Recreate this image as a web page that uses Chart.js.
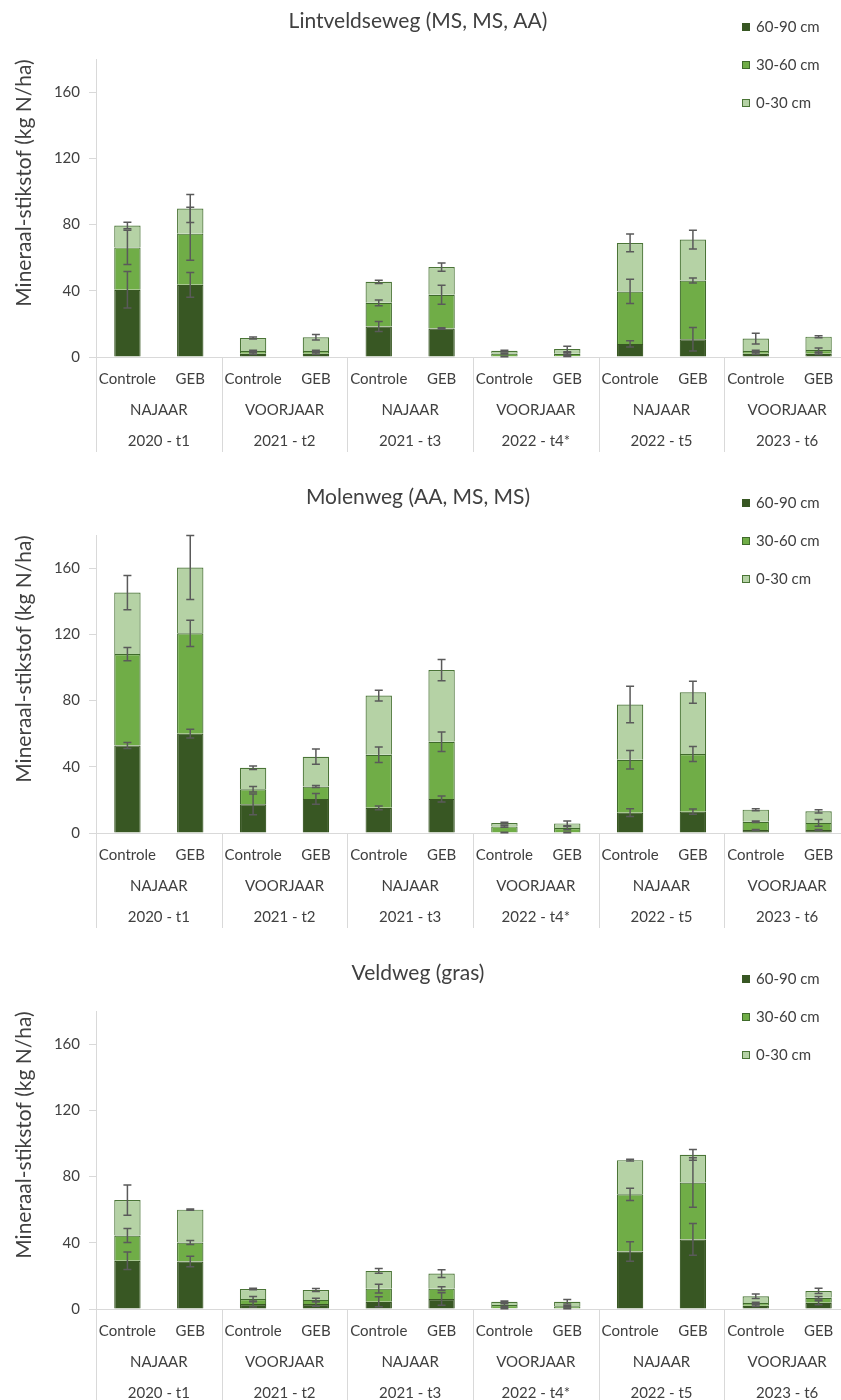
<!DOCTYPE html>
<html>
<head>
<meta charset="utf-8">
<script src="https://cdn.jsdelivr.net/npm/chart.js@4.4.0/dist/chart.umd.min.js"></script>
<style>
  html, body { margin: 0; padding: 0; background: #fff; overflow: hidden; }
  .panel { width: 841px; height: 476px; overflow: hidden; }
  canvas { display: block; }
</style>
</head>
<body>
<div class="panel"><canvas id="chart1" width="850" height="476"></canvas></div>
<div class="panel"><canvas id="chart2" width="850" height="476"></canvas></div>
<div class="panel"><canvas id="chart3" width="850" height="476"></canvas></div>
<script>
const periods = ["2020 - t1", "2021 - t2", "2021 - t3", "2022 - t4*", "2022 - t5", "2023 - t6"];
const seasons = ["NAJAAR", "VOORJAAR", "NAJAAR", "VOORJAAR", "NAJAAR", "VOORJAAR"];
const treatments = ["Controle", "GEB"];
const layers = ["60-90 cm", "30-60 cm", "0-30 cm"];
const yTicks = [0, 40, 80, 120, 160];

// Lintveldseweg (MS, MS, AA) - segment values per layer, kg N/ha
const lintDeep = [40.6, 43.6, 2.0, 2.0, 18.4, 17.2, 0.3, 0.5, 7.9, 10.7, 2.0, 2.0];
const lintMid = [25.6, 30.9, 1.6, 1.6, 14.3, 20.4, 1.8, 1.5, 31.7, 35.5, 1.6, 2.2];
const lintTop = [13.2, 15.2, 7.9, 8.3, 12.7, 16.7, 1.6, 2.8, 29.3, 24.7, 7.5, 8.1];
const lintDeepErr = [11.0, 7.5, 0.5, 0.5, 3.0, 0.5, 0.2, 0.2, 1.9, 7.1, 0.5, 0.5];
const lintMidErr = [10.4, 16.0, 0.5, 0.5, 1.8, 5.8, 0.3, 0.5, 7.3, 1.5, 0.5, 1.2];
const lintTopErr = [2.0, 8.5, 0.6, 1.7, 1.0, 2.5, 0.4, 1.7, 5.4, 5.7, 3.3, 0.6];

// Molenweg (AA, MS, MS)
const molDeep = [52.9, 60.0, 17.3, 20.6, 15.2, 20.6, 0.3, 0.3, 12.3, 12.9, 1.8, 1.8];
const molMid = [55.2, 60.6, 9.1, 7.5, 32.1, 34.5, 3.7, 2.7, 31.9, 34.8, 5.0, 4.3];
const molTop = [37.1, 39.8, 13.0, 18.0, 35.7, 43.3, 2.0, 2.8, 33.4, 37.3, 7.3, 7.0];
const molDeepErr = [1.8, 2.6, 6.3, 3.2, 1.1, 1.8, 0.2, 0.2, 2.3, 1.6, 0.3, 0.3];
const molMidErr = [4.0, 7.9, 1.7, 0.6, 4.7, 5.9, 0.5, 1.0, 5.6, 4.5, 0.4, 2.0];
const molTopErr = [10.4, 19.3, 1.0, 4.6, 3.2, 6.4, 0.5, 1.4, 11.0, 6.6, 0.6, 1.0];

// Veldweg (gras)
const veldDeep = [29.1, 28.7, 3.0, 3.0, 4.4, 6.0, 0.5, 0.3, 34.7, 42.0, 2.0, 3.8];
const veldMid = [15.3, 11.5, 3.0, 2.5, 7.9, 6.3, 1.9, 1.3, 34.6, 34.4, 1.6, 3.0];
const veldTop = [21.4, 19.8, 6.1, 6.0, 10.7, 9.1, 2.0, 2.8, 20.6, 16.7, 4.1, 4.1];
const veldDeepErr = [5.3, 3.2, 1.8, 1.4, 3.0, 3.8, 0.3, 0.2, 5.9, 9.6, 0.5, 1.2];
const veldMidErr = [4.2, 1.2, 1.6, 1.0, 2.7, 1.1, 0.7, 0.4, 3.7, 15.0, 0.5, 0.7];
const veldTopErr = [9.1, 0.4, 0.5, 0.9, 1.4, 2.3, 0.5, 1.4, 0.5, 3.2, 1.4, 1.6];

const font = "Lato, 'Open Sans', sans-serif";
const textColor = "#404040";
const axisColor = "#d9d9d9";
const fills = ["#385723", "#70ad47", "#b5d2a5"];
const edges = ["#385723", "#3f6a2b", "#4a7436"];

const labels = [];
periods.forEach(() => treatments.forEach((t) => labels.push(t)));

// error bars sit on the cumulative top of each segment
const errorBars = {
  id: "errorBars",
  afterDatasetsDraw(chart) {
    const { ctx } = chart;
    const y = chart.scales.y;
    const totals = labels.map(() => 0);
    ctx.save();
    ctx.strokeStyle = "#5a5a5a";
    ctx.lineWidth = 1.5;
    chart.data.datasets.forEach((ds, i) => {
      const meta = chart.getDatasetMeta(i);
      ds.data.forEach((v, j) => {
        totals[j] += v;
        const e = ds.errors[j];
        const bx = meta.data[j].x;
        const hi = y.getPixelForValue(totals[j] + e);
        const lo = y.getPixelForValue(totals[j] - e);
        ctx.beginPath();
        ctx.moveTo(bx, hi); ctx.lineTo(bx, lo);
        ctx.moveTo(bx - 4, hi); ctx.lineTo(bx + 4, hi);
        ctx.moveTo(bx - 4, lo); ctx.lineTo(bx + 4, lo);
        ctx.stroke();
      });
    });
    ctx.restore();
  }
};

// season / period rows under the treatment labels
const groupLabels = {
  id: "groupLabels",
  afterDraw(chart) {
    const { ctx, chartArea } = chart;
    const x = chart.scales.x;
    const half = (x.getPixelForValue(1) - x.getPixelForValue(0)) / 2;
    const base = chartArea.bottom;
    ctx.save();
    ctx.strokeStyle = axisColor;
    ctx.lineWidth = 1;
    ctx.fillStyle = textColor;
    ctx.font = "15px " + font;
    ctx.textAlign = "center";
    ctx.textBaseline = "middle";
    periods.forEach((p, g) => {
      const a = x.getPixelForValue(2 * g);
      const b = x.getPixelForValue(2 * g + 1);
      const left = Math.round(a - half) + 0.5;
      ctx.beginPath();
      ctx.moveTo(left, base);
      ctx.lineTo(left, base + 95);
      ctx.stroke();
      ctx.fillText(seasons[g], (a + b) / 2, base + 53);
      ctx.fillText(p, (a + b) / 2, base + 84);
    });
    ctx.restore();
  }
};

const decorations = {
  id: "decorations",
  afterDraw(chart) {
    const { ctx } = chart;
    const o = chart.options.plugins.decorations;
    ctx.save();
    ctx.fillStyle = textColor;
    ctx.textBaseline = "middle";
    ctx.textAlign = "center";
    ctx.font = "21px " + font;
    ctx.fillText(o.title, 418, 21);

    ctx.save();
    ctx.translate(24, 183);
    ctx.rotate(-Math.PI / 2);
    ctx.font = "21px " + font;
    ctx.fillText("Mineraal-stikstof (kg N/ha)", 0, 0);
    ctx.restore();

    ctx.textAlign = "left";
    ctx.font = "15px " + font;
    chart.data.datasets.forEach((ds, i) => {
      const cy = 27 + i * 38;
      ctx.fillStyle = ds.backgroundColor;
      ctx.fillRect(742, cy - 4, 8, 8);
      ctx.strokeStyle = ds.borderColor;
      ctx.lineWidth = 1;
      ctx.strokeRect(742.5, cy - 3.5, 7, 7);
      ctx.fillStyle = textColor;
      ctx.fillText(ds.label, 756, cy);
    });
    ctx.restore();
  }
};

function makeChart(id, title, series, errors) {
  const ctx = document.getElementById(id).getContext("2d");
  return new Chart(ctx, {
    type: "bar",
    data: {
      labels: labels,
      datasets: layers.map((name, i) => ({
        label: name,
        data: series[i],
        errors: errors[i],
        backgroundColor: fills[i],
        borderColor: edges[i],
        borderWidth: 1.2,
        barPercentage: 0.42,
        categoryPercentage: 1.0,
      })),
    },
    options: {
      responsive: false,
      animation: false,
      layout: { padding: { top: 59, left: 0, right: 0, bottom: 0 } },
      plugins: {
        legend: { display: false },
        tooltip: { enabled: false },
        decorations: { title: title },
      },
      scales: {
        x: {
          stacked: true,
          grid: { display: false },
          border: { color: axisColor },
          ticks: {
            padding: 5, maxRotation: 0, minRotation: 0, autoSkip: false,
            color: textColor, font: { family: font, size: 15 },
          },
          afterFit(scale) { scale.height = 119; },
        },
        y: {
          stacked: true,
          min: 0,
          max: 180,
          afterBuildTicks(scale) { scale.ticks = yTicks.map((v) => ({ value: v })); },
          grid: { drawOnChartArea: false, tickLength: 7, color: axisColor },
          border: { color: axisColor },
          ticks: { padding: 9, color: textColor, font: { family: font, size: 15 } },
          afterFit(scale) { scale.width = 96; },
        },
      },
    },
    plugins: [errorBars, groupLabels, decorations],
  });
}

makeChart("chart1", "Lintveldseweg (MS, MS, AA)",
  [lintDeep, lintMid, lintTop], [lintDeepErr, lintMidErr, lintTopErr]);
makeChart("chart2", "Molenweg (AA, MS, MS)",
  [molDeep, molMid, molTop], [molDeepErr, molMidErr, molTopErr]);
makeChart("chart3", "Veldweg (gras)",
  [veldDeep, veldMid, veldTop], [veldDeepErr, veldMidErr, veldTopErr]);
</script>
</body>
</html>
